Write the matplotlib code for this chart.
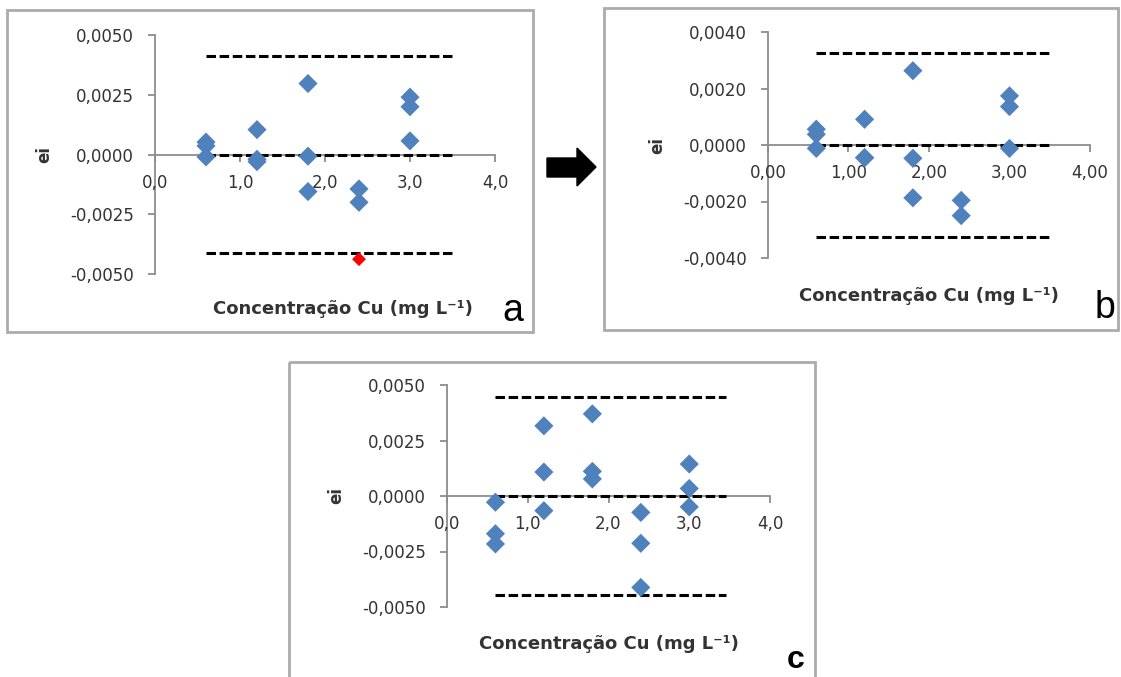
import matplotlib
matplotlib.use('Agg')
import matplotlib.pyplot as plt
from matplotlib.patches import Rectangle, Polygon
from matplotlib.ticker import FuncFormatter, MultipleLocator

# ------------------------------------------------------------
# residuals (ei) vs Cu concentration, three fits
# ------------------------------------------------------------
x_a = [0.6, 0.6, 0.6, 1.2, 1.2, 1.2, 1.8, 1.8, 1.8, 2.4, 2.4, 3.0, 3.0, 3.0]
ei_a = [0.00052, 0.00036, -0.0001, 0.00104, -0.0002, -0.0003,
        0.00297, -0.00007, -0.00155, -0.00144, -0.0020,
        0.0024, 0.0020, 0.00057]
outlier_x = [2.4]
outlier_ei = [-0.00438]
lim_a = 0.00413

x_b = [0.6, 0.6, 0.6, 1.2, 1.2, 1.2, 1.8, 1.8, 1.8, 2.4, 2.4, 3.0, 3.0, 3.0]
ei_b = [0.00056, 0.00038, -0.00012, 0.00091, -0.00045, -0.00045,
        0.00263, -0.00047, -0.00187, -0.00196, -0.0025,
        0.00174, 0.00136, -0.00012]
lim_b = 0.00325

x_c = [0.6, 0.6, 0.6, 1.2, 1.2, 1.2, 1.8, 1.8, 1.8, 2.4, 2.4, 2.4, 3.0, 3.0, 3.0]
ei_c = [-0.00028, -0.0017, -0.00216, 0.00316, 0.00108, -0.00066,
        0.0037, 0.00111, 0.00077, -0.00074, -0.00213, -0.00412,
        0.00144, 0.00034, -0.00049]
lim_c = 0.00448

lim_x = [0.6, 3.52]
lim_x_c = [0.6, 3.45]

BLUE = '#4F81BD'
AXIS_GREY = '#8C8C8C'
FRAME_GREY = '#ABABAB'
TXT = '#333333'

W, H = 1121, 677
fig = plt.figure(figsize=(W / 100, H / 100), dpi=100)
fig.patch.set_facecolor('white')

# overlay in pixel units for frames, arrow and panel letters
ov = fig.add_axes([0, 0, 1, 1], zorder=0)
ov.set_xlim(0, W)
ov.set_ylim(H, 0)
ov.axis('off')
ov.patch.set_alpha(0)

for (x0, y0, x1, y1) in [(7, 10, 533, 332), (604, 8, 1118, 330), (289, 362, 815, 690)]:
    ov.add_patch(Rectangle((x0, y0), x1 - x0, y1 - y0, fill=False,
                           edgecolor=FRAME_GREY, lw=2))

arrow = [(547, 158), (577, 158), (577, 148), (596, 167), (577, 186),
         (577, 177), (547, 177)]
ov.add_patch(Polygon(arrow, closed=True, facecolor='black', edgecolor='black', lw=1))

ov.text(513, 321, 'a', fontsize=27, family='Liberation Sans', ha='center', va='baseline', color='black')
ov.text(1105, 318, 'b', fontsize=27, family='Liberation Sans', ha='center', va='baseline', color='black')
ov.text(796, 668, 'c', fontsize=23, family='Liberation Sans', fontweight='bold',
        ha='center', va='baseline', color='black')


def fmt(nd):
    return FuncFormatter(lambda v, p: f'{v:.{nd}f}'.replace('.', ','))


def panel(rect, xs, ys, lim, lx, ymax, ystep, xdec, xlabel_pos):
    ax = fig.add_axes(rect, zorder=2)
    ax.patch.set_alpha(0)
    ax.set_xlim(0, 4)
    ax.set_ylim(-ymax, ymax)
    ax.xaxis.set_major_locator(MultipleLocator(1))
    ax.yaxis.set_major_locator(MultipleLocator(ystep))
    ax.xaxis.set_major_formatter(fmt(xdec))
    ax.yaxis.set_major_formatter(fmt(4))
    for s in ['top', 'right']:
        ax.spines[s].set_visible(False)
    ax.spines['bottom'].set_position(('data', 0))
    for s in ['left', 'bottom']:
        ax.spines[s].set_color(AXIS_GREY)
        ax.spines[s].set_linewidth(1.3)
        ax.spines[s].set_zorder(1)
    ax.tick_params(axis='both', colors=AXIS_GREY, length=5, width=1.3,
                   labelcolor=TXT, labelsize=12)
    ax.tick_params(axis='x', pad=9)
    ax.tick_params(axis='y', pad=10)
    for v in (lim, 0, -lim):
        ax.plot(lx, [v, v], color='black', lw=2.2, ls=(0, (3.1, 1.2)), zorder=3)
    ax.scatter(xs, ys, marker='D', s=95, color=BLUE, edgecolors='none', zorder=4)
    ax.set_ylabel('ei', fontsize=12, fontweight='bold', color=TXT, labelpad=12)
    ax.text(xlabel_pos[0], xlabel_pos[1], 'Concentração Cu (mg L\u207b\u00b9)',
            transform=ax.transAxes, ha='center', va='center',
            fontsize=13, fontweight='bold', color=TXT)
    return ax


ax_a = panel([155 / W, 1 - 274 / H, 340 / W, 239 / H], x_a, ei_a, lim_a, lim_x,
             0.005, 0.0025, 1, (0.553, -0.145))
ax_a.scatter(outlier_x, outlier_ei, marker='D', s=50, color='#FF0000', edgecolors='none', zorder=5)

panel([768 / W, 1 - 258 / H, 322 / W, 226 / H], x_b, ei_b, lim_b, lim_x,
      0.004, 0.002, 2, (0.5, -0.17))

panel([447 / W, 1 - 607 / H, 323 / W, 222 / H], x_c, ei_c, lim_c, lim_x_c,
      0.005, 0.0025, 1, (0.5, -0.165))

fig.savefig('out.png', dpi=100, facecolor='white')
